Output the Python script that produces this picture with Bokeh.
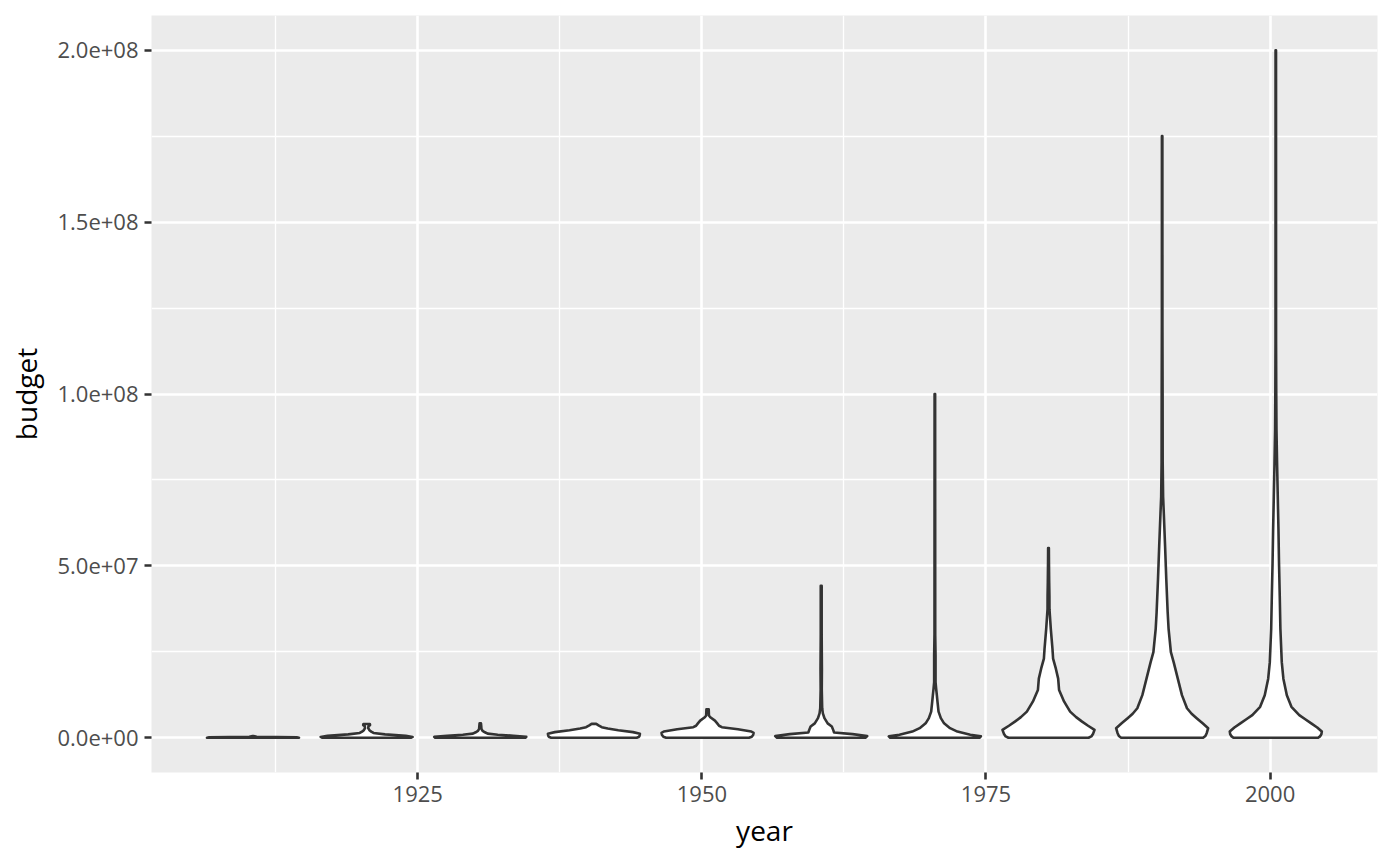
from bokeh.plotting import figure
from bokeh.models import FixedTicker
from bokeh.embed import file_html
from bokeh.resources import INLINE

# ---- data (violin outlines: budget level -> relative half-width) ----
decade_centers = [1910.5, 1920.5, 1930.5, 1940.5, 1950.5, 1960.5, 1970.5, 1980.5, 1990.5, 2000.5]

levels_1910s = [0, 1.5e5, 3.0e5, 5.0e5]
widths_1910s = [1.0, 0.95, 0.08, 0.01]

levels_1920s = [0, 2.5e5, 6e5, 1.0e6, 1.4e6, 1.8e6, 2.2e6, 2.8e6, 3.4e6, 3.7e6, 4.0e6]
widths_1920s = [0.96, 1.0, 0.85, 0.4, 0.15, 0.1, 0.06, 0.035, 0.04, 0.075, 0.07]

levels_1930s = [0, 2.5e5, 6e5, 9e5, 1.2e6, 1.6e6, 2.0e6, 2.6e6, 3.5e6, 4.2e6]
widths_1930s = [0.98, 1.0, 0.72, 0.38, 0.16, 0.1, 0.05, 0.025, 0.02, 0.015]

levels_1940s = [0, 2e5, 5e5, 1.2e6, 1.64e6, 2.2e6, 2.7e6, 3.08e6, 3.6e6, 4.04e6]
widths_1940s = [0.93, 0.97, 0.99, 1.0, 0.85, 0.53, 0.3, 0.17, 0.1, 0.05]

levels_1950s = [0, 3e5, 8e5, 1.4e6, 1.83e6, 2.5e6, 3.08e6, 3.5e6, 4.2e6, 5.0e6, 5.96e6, 6.5e6, 8.3e6]
widths_1950s = [0.9, 0.96, 0.99, 1.0, 0.95, 0.66, 0.31, 0.25, 0.21, 0.16, 0.06, 0.03, 0.025]

levels_1960s = [0, 5e5, 1.07e6, 1.54e6, 2.3e6, 3.3e6, 4.2e6, 5.7e6, 7.1e6, 8.6e6, 1.4e7, 2.0e7, 3.0e7, 4.42e7]
widths_1960s = [0.96, 1.0, 0.68, 0.28, 0.26, 0.23, 0.14, 0.07, 0.036, 0.021, 0.012, 0.015, 0.01, 0.01]

levels_1970s = [0, 4e5, 8.7e5, 1.8e6, 2.8e6, 4.2e6, 5.7e6, 7.6e6, 1.05e7, 1.24e7, 1.43e7, 1.62e7, 2.4e7, 3.0e7, 1.0e8]
widths_1970s = [0.97, 1.0, 0.77, 0.49, 0.33, 0.2, 0.13, 0.08, 0.057, 0.043, 0.028, 0.015, 0.015, 0.008, 0.006]

levels_1980s = [0, 4e5, 1.2e6, 2.3e6, 3.5e6, 4.7e6, 6.0e6, 7.6e6, 1.05e7, 1.39e7, 1.72e7, 2.01e7, 2.3e7, 2.59e7,
                3.17e7, 3.74e7, 4.13e7, 4.51e7, 5.09e7, 5.52e7]
widths_1980s = [0.87, 0.93, 0.97, 1.0, 0.86, 0.73, 0.6, 0.47, 0.34, 0.23, 0.21, 0.16, 0.1, 0.086,
                0.05, 0.021, 0.02, 0.015, 0.01, 0.008]

levels_1990s = [0, 5e5, 1.4e6, 2.8e6, 4.2e6, 5.7e6, 7.0e6, 8.6e6, 1.24e7, 1.72e7, 2.2e7, 2.49e7, 3.17e7, 3.65e7,
                4.61e7, 5.57e7, 6.53e7, 7.01e7, 8.0e7, 1.0e8, 1.2e8, 1.75e8]
widths_1990s = [0.89, 0.94, 0.97, 1.0, 0.88, 0.75, 0.64, 0.54, 0.43, 0.34, 0.25, 0.19, 0.14, 0.12,
                0.09, 0.064, 0.036, 0.021, 0.012, 0.01, 0.006, 0.005]

levels_2000s = [0, 4e5, 1.0e6, 1.8e6, 3.0e6, 4.2e6, 5.4e6, 6.6e6, 9.0e6, 1.24e7, 1.72e7, 2.2e7, 3.17e7, 4.13e7, 5.09e7,
                6.06e7, 7.01e7, 7.98e7, 8.95e7, 1.0e8, 1.15e8, 2.0e8]
widths_2000s = [0.92, 0.96, 0.99, 1.0, 0.9, 0.77, 0.64, 0.51, 0.34, 0.24, 0.165, 0.13, 0.1, 0.086, 0.07,
                0.058, 0.043, 0.028, 0.015, 0.01, 0.006, 0.005]

x_ticks = [1925, 1950, 1975, 2000]
x_minor = [1912.5, 1937.5, 1962.5, 1987.5]
y_ticks = [0, 5e7, 1e8, 1.5e8, 2e8]
y_tick_labels = ["0.0e+00", "5.0e+07", "1.0e+08", "1.5e+08", "2.0e+08"]
y_minor = [2.5e7, 7.5e7, 1.25e8, 1.75e8]

all_levels = [levels_1910s, levels_1920s, levels_1930s, levels_1940s, levels_1950s,
              levels_1960s, levels_1970s, levels_1980s, levels_1990s, levels_2000s]
all_widths = [widths_1910s, widths_1920s, widths_1930s, widths_1940s, widths_1950s,
              widths_1960s, widths_1970s, widths_1980s, widths_1990s, widths_2000s]

violin_width = 8.1  # full width in years
FONT = "Open Sans"

p = figure(frame_width=1226, frame_height=757,
           min_border_left=151, min_border_right=7, min_border_top=15, min_border_bottom=78,
           x_range=(1901.57, 2009.45), y_range=(-1.01e7, 2.101e8),
           output_backend="svg", toolbar_location=None)

p.background_fill_color = "#EBEBEB"
p.border_fill_color = "white"
p.outline_line_color = None

# grid
for g in (p.xgrid, p.ygrid):
    g.grid_line_color = "white"
    g.grid_line_width = 2.6
    g.minor_grid_line_color = "white"
    g.minor_grid_line_width = 1.3

p.xaxis.ticker = FixedTicker(ticks=x_ticks, minor_ticks=x_minor)
p.yaxis.ticker = FixedTicker(ticks=y_ticks, minor_ticks=y_minor)
p.yaxis.major_label_overrides = {float(t): l for t, l in zip(y_ticks, y_tick_labels)}

for ax in (p.xaxis, p.yaxis):
    ax.axis_line_color = None
    ax.minor_tick_line_color = None
    ax.major_tick_line_color = "#333333"
    ax.major_tick_line_width = 2.6
    ax.major_tick_out = 7
    ax.major_tick_in = 0
    ax.major_label_text_font = FONT
    ax.major_label_text_font_size = "22px"
    ax.major_label_text_color = "#4D4D4D"
    ax.major_label_standoff = 6
    ax.axis_label_text_font = FONT
    ax.axis_label_text_font_size = "28px"
    ax.axis_label_text_font_style = "normal"
    ax.axis_label_text_color = "black"

p.xaxis.axis_label = "year"
p.yaxis.axis_label = "budget"
p.xaxis.axis_label_standoff = 6
p.yaxis.axis_label_standoff = 9

half = violin_width / 2.0
for c, lv, wd in zip(decade_centers, all_levels, all_widths):
    xs = [c - half * w for w in wd] + [c + half * w for w in reversed(wd)]
    ys = list(lv) + list(reversed(lv))
    p.patch(xs, ys, fill_color="white", line_color="#333333", line_width=2.6,
            line_join="round")

open("out.html", "w").write(file_html(p, INLINE))
